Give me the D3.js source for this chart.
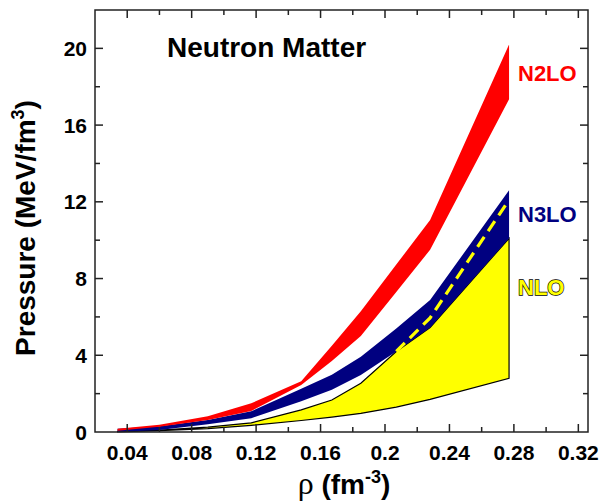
<!DOCTYPE html>
<html>
<head>
<meta charset="utf-8">
<script src="https://cdn.jsdelivr.net/npm/d3@7"></script>
<style>
  html, body { margin: 0; padding: 0; background: #fff; }
  svg { display: block; }
  text { font-family: "Liberation Sans", Arial, sans-serif; font-weight: bold; }
</style>
</head>
<body>
<svg id="chart" width="600" height="504"></svg>
<script>
// Density grid (fm^-3)
const rho = [0.034, 0.06, 0.09, 0.117, 0.148, 0.167, 0.185, 0.207, 0.228, 0.277];

// Pressure bands (MeV/fm^3): upper / lower edges for each chiral order
const n2loHi = [0.17, 0.38, 0.82, 1.50, 2.65, 4.50, 6.30, 8.73, 11.05, 20.2];
const n2loLo = [0.06, 0.27, 0.63, 1.10, 2.45, 3.70, 5.00, 7.30, 9.50, 17.35];
const n3loHi = [0.17, 0.30, 0.62, 1.08, 2.25, 2.98, 3.92, 5.40, 6.88, 12.6];
const n3loLo = [0.00, 0.10, 0.40, 0.72, 1.60, 2.20, 2.97, 4.20, 5.45, 10.1];
const nloHi  = [0.03, 0.10, 0.25, 0.48, 1.15, 1.67, 2.54, 4.20, 5.45, 10.1];
const nloLo  = [0.00, 0.07, 0.18, 0.35, 0.60, 0.78, 0.97, 1.30, 1.70, 2.80];

// Dashed curve inside the N3LO band
const rhoDash = [0.207, 0.228, 0.277];
const pDash   = [4.20, 5.95, 12.1];

// Axis ticks
const xMajor = [0.04, 0.08, 0.12, 0.16, 0.2, 0.24, 0.28, 0.32];
const xMinor = [0.06, 0.10, 0.14, 0.18, 0.22, 0.26, 0.30];
const yMajor = [0, 4, 8, 12, 16, 20];
const yMinor = [2, 6, 10, 14, 18];

const svg = d3.select("#chart");
const L = 95, R = 588, T = 10, B = 432;

const x = d3.scaleLinear().domain([0.02, 0.326]).range([L, R]);
const y = d3.scaleLinear().domain([0, 22]).range([B, T]);

function band(hi, lo) {
  return rho.map((r, i) => ({ r, hi: hi[i], lo: lo[i] }));
}
const area = d3.area()
  .x(d => x(d.r))
  .y0(d => y(d.lo))
  .y1(d => y(d.hi))
  .curve(d3.curveLinear);

const plot = svg.append("g");

// NLO band (yellow with thin black outline)
plot.append("path")
  .datum(band(nloHi, nloLo))
  .attr("d", area)
  .attr("fill", "#ffff00")
  .attr("stroke", "#000")
  .attr("stroke-width", 1.2)
  .attr("stroke-linejoin", "miter");

// N3LO band (navy)
plot.append("path")
  .datum(band(n3loHi, n3loLo))
  .attr("d", area)
  .attr("fill", "#000080");

// N2LO band (red)
plot.append("path")
  .datum(band(n2loHi, n2loLo))
  .attr("d", area)
  .attr("fill", "#ff0000");

// Dashed yellow curve
const line = d3.line().x(d => x(d[0])).y(d => y(d[1]));
plot.append("path")
  .datum(rhoDash.map((r, i) => [r, pDash[i]]))
  .attr("d", line)
  .attr("fill", "none")
  .attr("stroke", "#ffff00")
  .attr("stroke-width", 3.2)
  .attr("stroke-dasharray", "12,7");

// Frame
const axis = svg.append("g").attr("stroke", "#222").attr("stroke-width", 1.5);
axis.append("rect")
  .attr("x", L).attr("y", T).attr("width", R - L).attr("height", B - T)
  .attr("fill", "none");

// Inward ticks on all four sides
const majLen = 8, minLen = 5;
function xTicks(vals, len) {
  vals.forEach(v => {
    axis.append("line").attr("x1", x(v)).attr("x2", x(v)).attr("y1", B).attr("y2", B - len);
    axis.append("line").attr("x1", x(v)).attr("x2", x(v)).attr("y1", T).attr("y2", T + len);
  });
}
function yTicks(vals, len) {
  vals.forEach(v => {
    axis.append("line").attr("y1", y(v)).attr("y2", y(v)).attr("x1", L).attr("x2", L + len);
    axis.append("line").attr("y1", y(v)).attr("y2", y(v)).attr("x1", R).attr("x2", R - len);
  });
}
xTicks(xMajor, majLen); xTicks(xMinor, minLen);
yTicks(yMajor.filter(v => v > 0), majLen); yTicks(yMinor, minLen);

// Tick labels
const fmt = d3.format("~g");
svg.append("g").selectAll("text").data(xMajor).join("text")
  .attr("x", d => x(d)).attr("y", 460)
  .attr("text-anchor", "middle")
  .attr("font-size", 21)
  .text(d => fmt(d));

svg.append("g").selectAll("text").data(yMajor).join("text")
  .attr("x", 87).attr("y", d => y(d) + 7.5)
  .attr("text-anchor", "end")
  .attr("font-size", 21)
  .text(d => fmt(d));

// Axis titles
const yt = svg.append("text")
  .attr("transform", "translate(35,228) rotate(-90)")
  .attr("text-anchor", "middle")
  .attr("font-size", 28);
yt.append("tspan").text("Pressure (MeV/fm");
yt.append("tspan").attr("font-size", 18).attr("dy", -11).text("3");
yt.append("tspan").attr("dy", 11).text(")");

const xt = svg.append("text")
  .attr("x", 344).attr("y", 494)
  .attr("text-anchor", "middle")
  .attr("font-size", 28);
xt.append("tspan").attr("font-family", "'Liberation Serif', serif").attr("font-weight", "normal").attr("font-size", 32).text("ρ");
xt.append("tspan").text(" (fm");
xt.append("tspan").attr("font-size", 18).attr("dy", -11).text("-3");
xt.append("tspan").attr("dy", 11).text(")");

// Title and series labels
svg.append("text").attr("x", 167).attr("y", 57).attr("font-size", 28).text("Neutron Matter");
svg.append("text").attr("x", 518).attr("y", 81).attr("font-size", 22).attr("fill", "#ff0000").text("N2LO");
svg.append("text").attr("x", 518).attr("y", 222).attr("font-size", 22).attr("fill", "#000080").text("N3LO");
svg.append("text").attr("x", 518).attr("y", 295).attr("font-size", 22)
  .attr("fill", "#ffff00").attr("stroke", "#000").attr("stroke-width", 1.3)
  .attr("paint-order", "stroke").text("NLO");
</script>
</body>
</html>
